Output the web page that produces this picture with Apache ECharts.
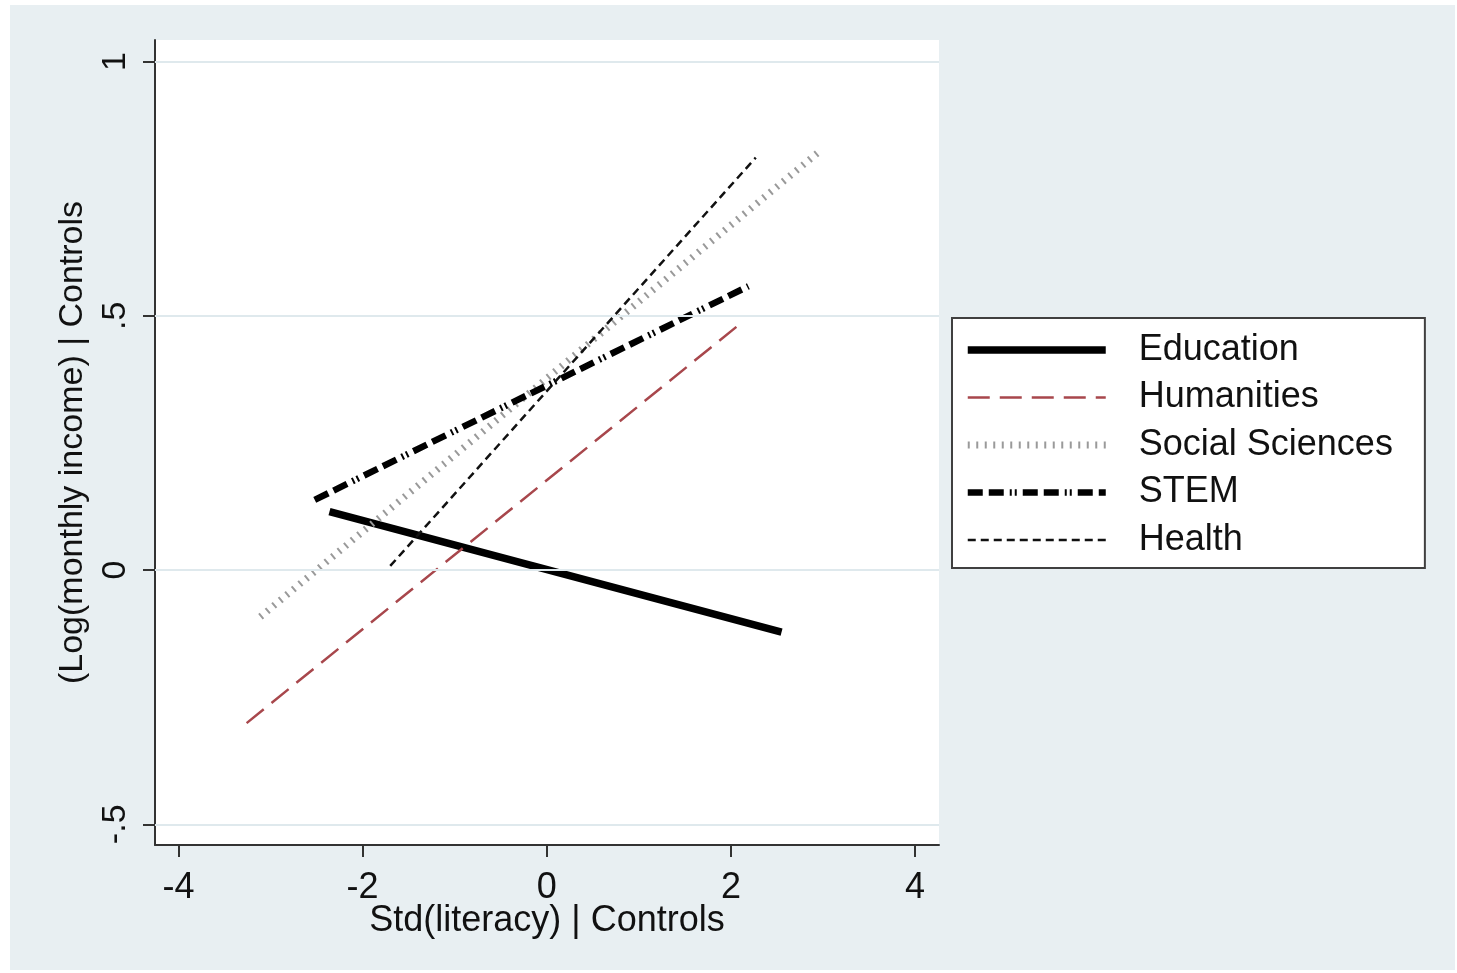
<!DOCTYPE html>
<html>
<head>
<meta charset="utf-8">
<script src="https://cdn.jsdelivr.net/npm/echarts@6/dist/echarts.min.js"></script>
<style>
  html, body { margin: 0; padding: 0; background: #ffffff; }
  #bg { position: absolute; left: 10px; top: 5px; width: 1445px; height: 965px; background: #e8eff2; }
  #chart { position: absolute; left: 0; top: 0; width: 1457px; height: 973px; }
</style>
</head>
<body>
<div id="bg"></div>
<div id="chart"></div>
<script>
// ---- data ----
const seriesNames = ['Education', 'Humanities', 'Social Sciences', 'STEM', 'Health'];
const education  = [[-2.36, 0.115], [2.55, -0.122]];
const humanities = [[-3.26, -0.301], [2.12, 0.487]];
const socialSci  = [[-3.11, -0.092], [2.96, 0.823]];
const stem       = [[-2.52, 0.138], [2.19, 0.558]];
const health     = [[-1.70, 0.008], [2.27, 0.811]];
const xTicks = [-4, -2, 0, 2, 4];
const yTicks = [-0.5, 0, 0.5, 1];
const yTickLabels = ['-.5', '0', '.5', '1'];
const xTitle = 'Std(literacy) | Controls';
const yTitle = '(Log(monthly income) | Controls';

// ---- styles ----
const FONT = '"Liberation Sans", Arial, sans-serif';
const styles = {
  'Education':       { color: '#000000', width: 7.5, type: 'solid' },
  'Humanities':      { color: '#a8474c', width: 2.5, type: [22, 10] },
  'Social Sciences': { color: '#9a9a9a', width: 7,   type: [2, 6.5] },
  'STEM':            { color: '#000000', width: 6.5, type: [15, 6, 15, 6, 2, 3, 2, 6] },
  'Health':          { color: '#111111', width: 2.5, type: [8, 5] }
};
const dataMap = {
  'Education': education, 'Humanities': humanities, 'Social Sciences': socialSci,
  'STEM': stem, 'Health': health
};

const chart = echarts.init(document.getElementById('chart'), null, { renderer: 'canvas' });

const series = seriesNames.map(function (n) {
  const s = styles[n];
  return {
    name: n, type: 'line', data: dataMap[n], symbol: 'none', z: 3,
    lineStyle: { color: s.color, width: s.width, type: s.type, cap: 'butt' },
    itemStyle: { color: s.color },
    animation: false
  };
});
// gridlines through the axis scale
series.unshift({
  name: '_grid', type: 'line', data: [], z: 1, silent: true, animation: false,
  markLine: {
    silent: true, symbol: 'none', animation: false,
    label: { show: false },
    lineStyle: { color: '#dfe9ed', width: 2, type: 'solid' },
    data: yTicks.map(function (v) { return { yAxis: v }; })
  }
});

const option = {
  animation: false,
  textStyle: { fontFamily: FONT },
  grid: { left: 155, top: 40, right: 518, bottom: 128, show: true, backgroundColor: '#ffffff', borderWidth: 0 },
  xAxis: {
    type: 'value', min: -4.255, max: 4.26,
    name: xTitle, nameLocation: 'middle', nameGap: 58, nameMoveOverlap: false,
    nameTextStyle: { fontSize: 36, color: '#111', fontFamily: FONT },
    axisLine: { show: true, onZero: false, lineStyle: { color: '#333', width: 2 } },
    axisTick: { show: true, length: 12, customValues: xTicks, lineStyle: { color: '#333', width: 2 } },
    axisLabel: { customValues: xTicks, fontSize: 36, color: '#111', margin: 25, fontFamily: FONT,
                 formatter: function (v) { return String(v); } },
    splitLine: { show: false }
  },
  yAxis: {
    type: 'value', min: -0.5407, max: 1.0422,
    name: yTitle, nameLocation: 'middle', nameGap: 65, nameRotate: 90, nameMoveOverlap: false,
    nameTextStyle: { fontSize: 34, color: '#111', fontFamily: FONT },
    axisLine: { show: true, onZero: false, lineStyle: { color: '#333', width: 2 } },
    axisTick: { show: true, length: 12, customValues: yTicks, lineStyle: { color: '#333', width: 2 } },
    axisLabel: { customValues: yTicks, fontSize: 34, color: '#111', margin: 22, rotate: 90, fontFamily: FONT,
                 formatter: function (v) { const i = yTicks.indexOf(v); return i >= 0 ? yTickLabels[i] : ''; } },
    splitLine: { show: false }
  },
  legend: {
    show: true, orient: 'vertical', left: 952, top: 318,
    padding: [12, 32, 8, 12],
    backgroundColor: '#ffffff', borderColor: '#404040', borderWidth: 2,
    itemWidth: 138, itemHeight: 14, itemGap: 7.5,
    selectedMode: false,
    textStyle: { fontSize: 36, color: '#111', fontFamily: FONT, lineHeight: 40, padding: [0, 0, 0, 28] },
    data: seriesNames.map(function (n) {
      const s = styles[n];
      return {
        name: n,
        lineStyle: { width: s.width, type: s.type, color: s.color, cap: 'butt' },
        itemStyle: { opacity: 0, color: 'rgba(0,0,0,0)', borderWidth: 0 }
      };
    })
  },
  series: series
};
chart.setOption(option);
</script>
</body>
</html>
